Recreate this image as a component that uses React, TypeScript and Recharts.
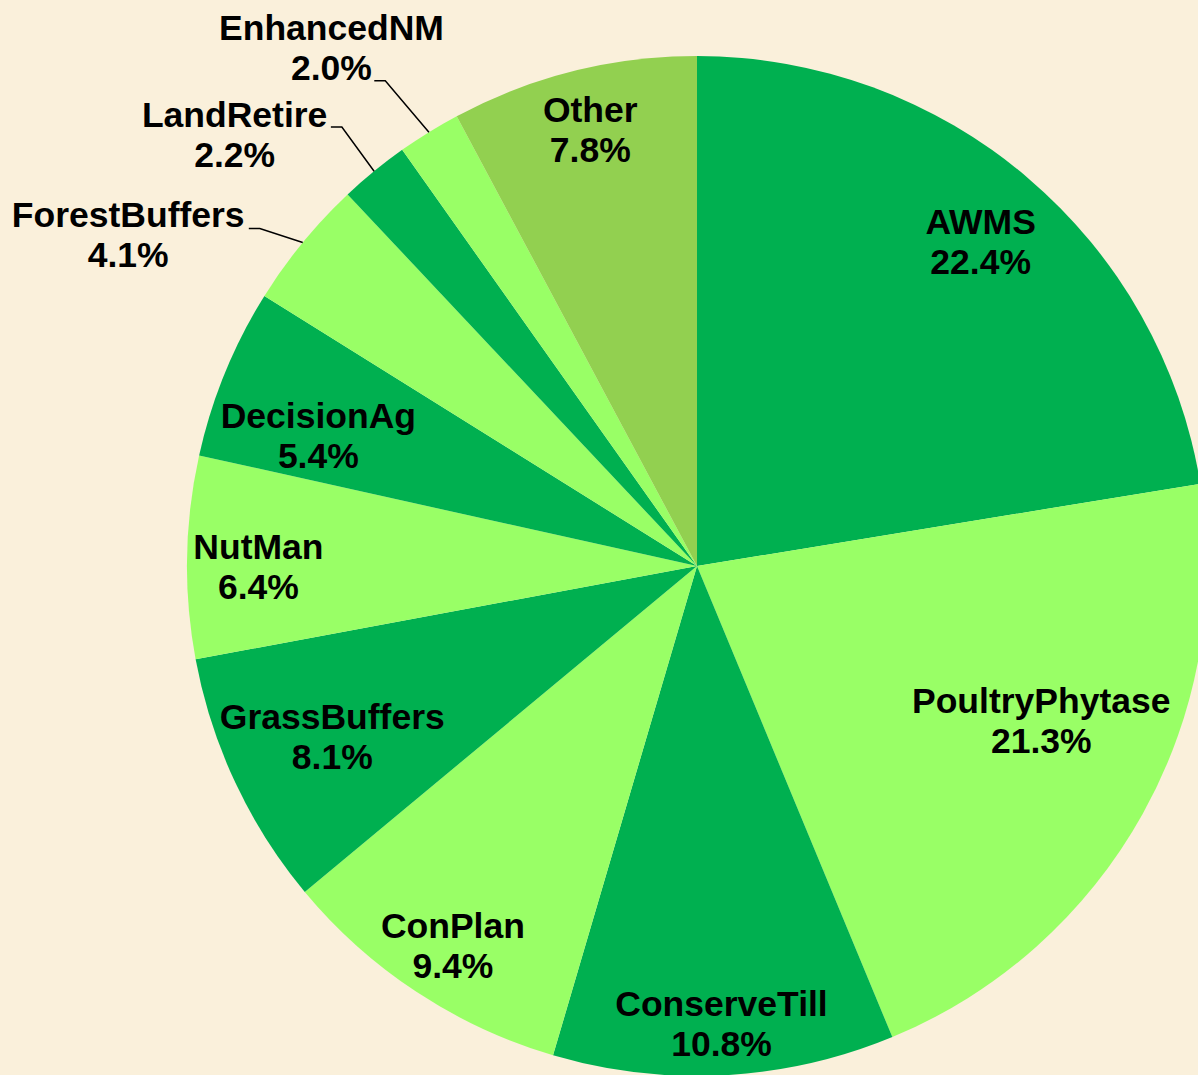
import { PieChart, Pie, Cell } from "recharts";

// Share of load reduction by practice, clockwise from 12 o'clock.
const practices = [
  "AWMS",
  "PoultryPhytase",
  "ConserveTill",
  "ConPlan",
  "GrassBuffers",
  "NutMan",
  "DecisionAg",
  "ForestBuffers",
  "LandRetire",
  "EnhancedNM",
  "Other",
];
const shares = [22.4, 21.3, 10.8, 9.4, 8.1, 6.4, 5.4, 4.1, 2.2, 2.0, 7.8];

const DARK = "#00B050";
const LIGHT = "#99FF66";
const OTHER = "#92D050";

// label placement: distance from centre as a fraction of the radius,
// plus an angular nudge in degrees; outside labels get a leader line
const labelRadius = [0.845, 0.74, 0.9, 0.885, 0.79, 0.86, 0.785, 1.29, 1.24, 1.243, 0.88];
const labelShift = [-0.8, 4.9, 0, 0.6, 0, 1.1, 3.3, 9.2, 7.7, 3.5, -0.3];
const elbowRadius = [0, 0, 0, 0, 0, 0, 0, 1.083, 1.107, 1.131, 0];
const elbowShift = [0, 0, 0, 0, 0, 0, 0, 1.7, -0.3, 1.0, 0];

const data = practices.map((name, i) => ({ name, value: shares[i] }));

const RAD = Math.PI / 180;
const polar = (cx: number, cy: number, r: number, deg: number) => ({
  x: cx + r * Math.cos(deg * RAD),
  y: cy - r * Math.sin(deg * RAD),
});

function SliceLabel(props: any) {
  const { cx, cy, midAngle, outerRadius, index } = props;
  const p = polar(cx, cy, outerRadius * labelRadius[index], midAngle + labelShift[index]);
  let leader = null;
  if (elbowRadius[index] > 0) {
    const edge = polar(cx, cy, outerRadius, midAngle);
    const elbow = polar(cx, cy, outerRadius * elbowRadius[index], midAngle + elbowShift[index]);
    leader = (
      <polyline
        points={`${edge.x},${edge.y} ${elbow.x},${elbow.y} ${elbow.x - 11},${elbow.y}`}
        fill="none"
        stroke="#000"
        strokeWidth={1.5}
      />
    );
  }
  return (
    <g>
      {leader}
      <text
        x={p.x}
        y={p.y}
        textAnchor="middle"
        fontFamily="'Liberation Sans', Arial, sans-serif"
        fontWeight="bold"
        fontSize={35.5}
        fill="#000"
      >
        <tspan x={p.x} dy={-20} dominantBaseline="central">
          {practices[index]}
        </tspan>
        <tspan x={p.x} dy={40} dominantBaseline="central">
          {shares[index].toFixed(1)}%
        </tspan>
      </text>
    </g>
  );
}

export default function App() {
  return (
    <div
      style={{
        position: "absolute",
        left: 0,
        top: 0,
        width: 1198,
        height: 1075,
        overflow: "hidden",
        background: "#FAF0DB",
      }}
    >
      <PieChart width={1198} height={1075}>
        <Pie
          data={data}
          dataKey="value"
          nameKey="name"
          cx={692}
          cy={561}
          outerRadius={510}
          startAngle={90}
          endAngle={-270}
          stroke="none"
          label={SliceLabel}
          labelLine={false}
          isAnimationActive={false}
        >
          {data.map((d, i) => (
            <Cell
              key={d.name}
              fill={d.name === "Other" ? OTHER : i % 2 === 0 ? DARK : LIGHT}
            />
          ))}
        </Pie>
      </PieChart>
    </div>
  );
}
